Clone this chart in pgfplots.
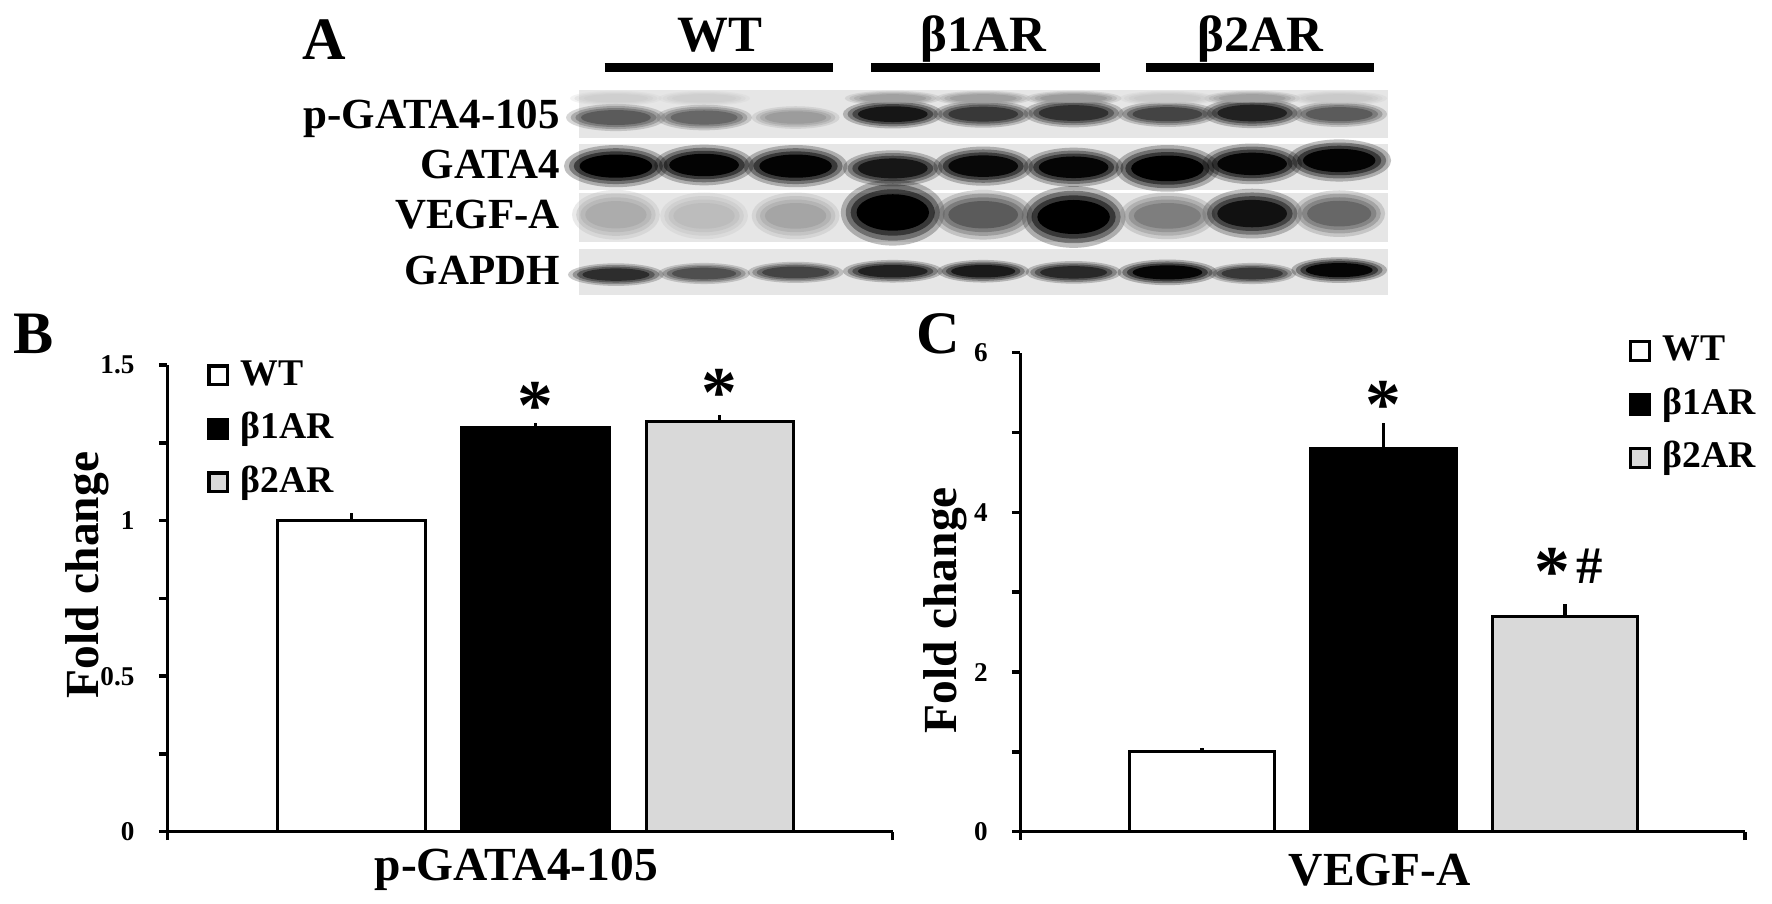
\documentclass[border=0pt]{standalone}
\usepackage{fontspec}
\setmainfont{Liberation Serif}
\usepackage{pgfplots}
\pgfplotsset{compat=1.18}
\usepackage{pgfplotstable}

\definecolor{blotbg}{RGB}{230,230,230}
\definecolor{ltgray}{RGB}{217,217,217}
\pgfdeclareplotmark{fcirc}{\pgfpathcircle{\pgfpointorigin}{\pgfplotmarksize}\pgfusepathqfill}

% blot bands: x, y (picture px), half width w, half height h (pt), intensity v
\pgfplotstableread{
x y w h v
545 87 11.5 2.0 0.10
623 87 11.5 2.0 0.10
790 87 12 2.0 0.30
870 87 12 2.0 0.30
950 87 12 2.0 0.32
1033 87 12 2.0 0.12
1108 87 12 2.0 0.30
1185 87 12 2.0 0.12
545 104 12.5 3.6 0.60
623 104 12 3.4 0.55
704 104 11 3.0 0.32
790 101 12.5 3.8 0.90
870 101 12.5 3.6 0.75
950 100 12.5 3.8 0.78
1033 101 12.5 3.4 0.70
1108 100 12.5 4.0 0.85
1185 101 12 3.4 0.60
545 147 13 5.6 1.00
623 146 12.5 5.4 0.98
704 147 13 5.6 0.98
790 149 12.5 4.8 0.90
870 147 12.5 5.2 0.96
950 148 12.5 5.2 0.97
1033 149 13 6.2 1.00
1108 145 12.5 5.4 0.97
1185 142 13 5.6 0.98
545 190 11 6.6 0.25
623 191 11 6.2 0.18
704 191 11 6.2 0.28
790 188 13 8.8 1.00
870 190 12.5 6.6 0.60
950 192 13 8.2 1.00
1033 191 12 6.2 0.45
1108 189 12.5 6.6 0.92
1185 189 11.5 6.2 0.55
545 243 12 3.0 0.80
623 242 11.5 2.8 0.65
704 241 12 2.8 0.70
790 240 12.5 3.0 0.85
870 240 11.5 3.0 0.88
950 241 12 3.0 0.82
1033 241 12.5 3.4 0.97
1108 242 11 2.8 0.75
1185 239 12 3.4 0.97
}\bands

\pgfplotstableread{
x y e
1 1.00 0.025
}\pgWT
\pgfplotstableread{
x y e
2 1.30 0.015
}\pgBa
\pgfplotstableread{
x y e
3 1.32 0.02
}\pgBb
\pgfplotstableread{
x y e
1 1.00 0.05
}\vWT
\pgfplotstableread{
x y e
2 4.80 0.32
}\vBa
\pgfplotstableread{
x y e
3 2.70 0.15
}\vBb

\pgfplotsset{
  legsq/.style={legend image code/.code={\draw[##1,line width=0.9pt] (0pt,-2.5pt) rectangle (5pt,2.5pt); \path (7pt,0pt);}},
  bandlayer/.style={scatter, only marks, mark=fcirc, mark size=1pt, point meta=\thisrow{v},
    visualization depends on={\thisrow{w}\as\bw},
    visualization depends on={\thisrow{h}\as\bh},
    scatter/use mapped color={draw=mapped color, fill=mapped color, fill opacity=#1},
    forget plot},
  barpanel/.style={
    scale only axis, clip=false,
    axis lines=left, axis line style={-, line width=0.9pt, black},
    tick align=outside, major tick length=2.2pt, minor tick length=2.2pt,
    tick style={line width=0.9pt, black},
    ticklabel style={font=\bfseries\fontsize{7.2}{8}\selectfont},
    yticklabel style={xshift=-3pt},
    /pgf/number format/assume math mode=true,
    xticklabels={\mbox{},\mbox{}},
    ybar, bar width=0.8, bar shift=0pt,
    error bars/y dir=plus, error bars/y explicit,
    error bars/error mark=none,
    error bars/error bar style={line width=0.9pt, black},
    xlabel style={anchor=center, font=\bfseries\fontsize{12.6}{14}\selectfont},
    ylabel style={anchor=center, font=\bfseries\fontsize{12.6}{14}\selectfont},
    legend style={draw=none, fill=none, inner sep=0pt, row sep=2.2pt,
      font=\bfseries\fontsize{10}{11}\selectfont,
      nodes={text height=7.6pt, text depth=2.4pt, inner sep=1pt}},
    legend cell align=left,
  },
}

\begin{document}
\begin{tikzpicture}
% ---------- frame and panel A (coordinates in picture pixels) ----------
\begin{axis}[at={(0pt,0pt)}, anchor=south west, scale only axis,
  width=470.4pt, height=239.4pt, xmin=0, xmax=1568, ymin=0, ymax=798,
  y dir=reverse, hide axis, clip=false,
  colormap={blot}{rgb255(0cm)=(230,230,230); rgb255(1cm)=(0,0,0)},
  point meta min=0, point meta max=1]
\path (rel axis cs:0,0) rectangle (rel axis cs:1,1);
\addplot[fill=blotbg, draw=none, forget plot] coordinates {(512,80) (1228,80) (1228,122) (512,122)} --cycle;
\addplot[fill=blotbg, draw=none, forget plot] coordinates {(512,127) (1228,127) (1228,168) (512,168)} --cycle;
\addplot[fill=blotbg, draw=none, forget plot] coordinates {(512,171) (1228,171) (1228,214) (512,214)} --cycle;
\addplot[fill=blotbg, draw=none, forget plot] coordinates {(512,220) (1228,220) (1228,261) (512,261)} --cycle;
\addplot[bandlayer=0.25, scatter/@pre marker code/.append style={/tikz/xscale={1.06*\bw},/tikz/yscale={1.0*\bh}}] table[x=x,y=y] {\bands};
\addplot[bandlayer=0.35, scatter/@pre marker code/.append style={/tikz/xscale={0.96*\bw},/tikz/yscale={0.85*\bh}}] table[x=x,y=y] {\bands};
\addplot[bandlayer=0.5, scatter/@pre marker code/.append style={/tikz/xscale={0.86*\bw},/tikz/yscale={0.7*\bh}}] table[x=x,y=y] {\bands};
\addplot[bandlayer=1, scatter/@pre marker code/.append style={/tikz/xscale={0.74*\bw},/tikz/yscale={0.55*\bh}}] table[x=x,y=y] {\bands};
\addplot[black, line width=2.4pt, forget plot] coordinates {(535,60) (737,60)};
\addplot[black, line width=2.4pt, forget plot] coordinates {(771,60) (973,60)};
\addplot[black, line width=2.4pt, forget plot] coordinates {(1014,60) (1216,60)};
\node[anchor=base, font=\bfseries\fontsize{13.5}{14}\selectfont] at (axis cs:637,46) {WT};
\node[anchor=base, font=\bfseries\fontsize{13.5}{14}\selectfont] at (axis cs:870,46) {β1AR};
\node[anchor=base, font=\bfseries\fontsize{13.5}{14}\selectfont] at (axis cs:1115,46) {β2AR};
\node[anchor=base east, inner sep=0pt, font=\bfseries\fontsize{11.4}{12}\selectfont] at (axis cs:496,114) {p-GATA4-105};
\node[anchor=base east, inner sep=0pt, font=\bfseries\fontsize{11.4}{12}\selectfont] at (axis cs:496,158) {GATA4};
\node[anchor=base east, inner sep=0pt, font=\bfseries\fontsize{11.4}{12}\selectfont] at (axis cs:496,202) {VEGF-A};
\node[anchor=base east, inner sep=0pt, font=\bfseries\fontsize{11.4}{12}\selectfont] at (axis cs:496,252) {GAPDH};
\node[anchor=base, inner sep=0pt, font=\bfseries\fontsize{16}{16}\selectfont] at (axis cs:287,53) {A};
\node[anchor=base, inner sep=0pt, font=\bfseries\fontsize{16}{16}\selectfont] at (axis cs:30,313) {B};
\node[anchor=base, inner sep=0pt, font=\bfseries\fontsize{16}{16}\selectfont] at (axis cs:830,313) {C};
\end{axis}

% ---------- panel B ----------
\begin{axis}[barpanel, at={(44.4pt,18.6pt)}, anchor=south west,
  width=192.6pt, height=123.9pt,
  xmin=0, xmax=3.94, ymin=0, ymax=1.5,
  xtick={0,3.94},
  ytick={0,0.5,1,1.5}, yticklabels={0,0.5,1,1.5}, minor ytick={0.25,0.75,1.25},
  xlabel={p-GATA4-105}, xlabel style={at={(axis description cs:0.481,-0.082)}},
  ylabel={Fold change}, ylabel style={at={(axis description cs:-0.110,0.55)}},
  legend style={at={(axis description cs:0.054,1.028)}, anchor=north west}]
\addplot[legsq, fill=white, draw=black, line width=0.8pt] table[x=x,y=y,y error=e] {\pgWT};
\addplot[legsq, fill=black, draw=black, line width=0.8pt] table[x=x,y=y,y error=e] {\pgBa};
\addplot[legsq, fill=ltgray, draw=black, line width=0.8pt] table[x=x,y=y,y error=e] {\pgBb};
\legend{WT, β1AR, β2AR}
\node[font=\bfseries\fontsize{19}{19}\selectfont, inner sep=0pt] at (axis cs:2,1.37) {*};
\node[font=\bfseries\fontsize{19}{19}\selectfont, inner sep=0pt] at (axis cs:3,1.41) {*};
\end{axis}

% ---------- panel C ----------
\begin{axis}[barpanel, at={(270.9pt,18.6pt)}, anchor=south west,
  width=192.3pt, height=127.2pt,
  xmin=0, xmax=3.99, ymin=0, ymax=6,
  xtick={0,3.99},
  ytick={0,2,4,6}, yticklabels={0,2,4,6}, minor ytick={1,3,5},
  xlabel={VEGF-A}, xlabel style={at={(axis description cs:0.496,-0.080)}},
  ylabel={Fold change}, ylabel style={at={(axis description cs:-0.104,0.462)}},
  legend style={at={(axis description cs:0.839,1.052)}, anchor=north west}]
\addplot[legsq, fill=white, draw=black, line width=0.8pt] table[x=x,y=y,y error=e] {\vWT};
\addplot[legsq, fill=black, draw=black, line width=0.8pt] table[x=x,y=y,y error=e] {\vBa};
\addplot[legsq, fill=ltgray, draw=black, line width=0.8pt] table[x=x,y=y,y error=e] {\vBb};
\legend{WT, β1AR, β2AR}
\node[font=\bfseries\fontsize{19}{19}\selectfont, inner sep=0pt] at (axis cs:2,5.35) {*};
\node[inner sep=0pt, anchor=center] at (axis cs:3.02,3.25) {{\bfseries\fontsize{19}{19}\selectfont *}\hspace{1.5pt}\raisebox{3.2pt}{\bfseries\fontsize{14}{14}\selectfont\#}};
\end{axis}
\end{tikzpicture}
\end{document}
